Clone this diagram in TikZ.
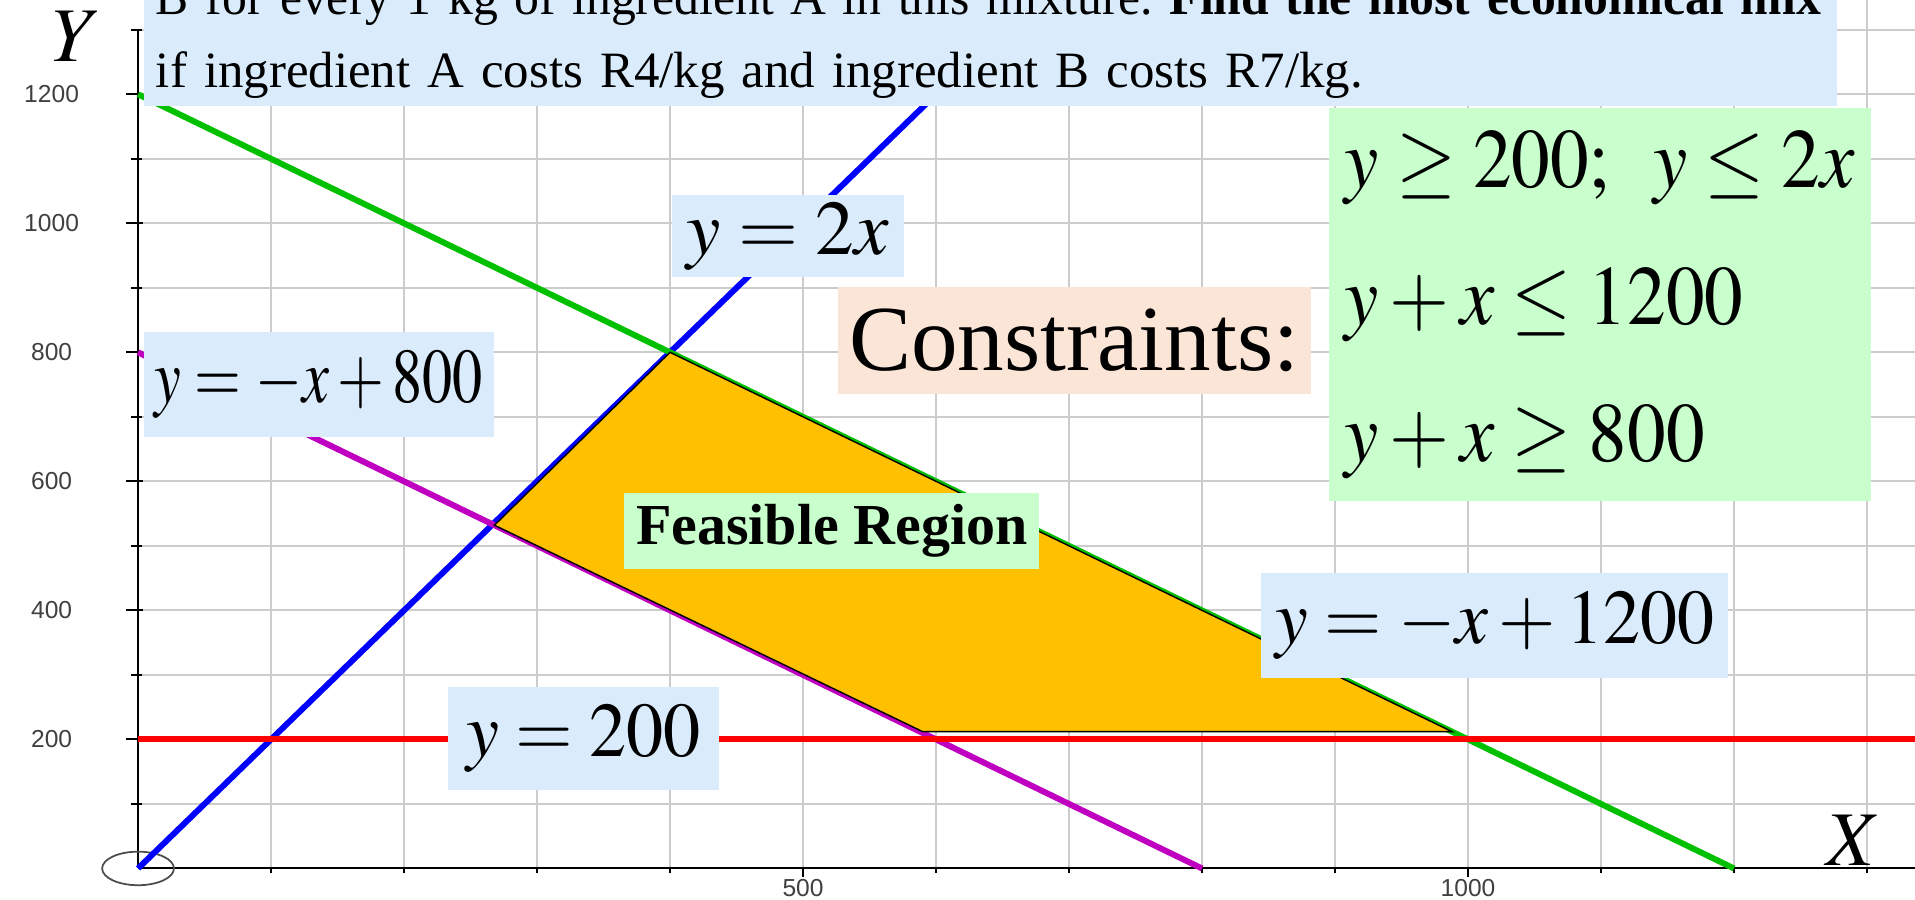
\documentclass[tikz,border=0pt]{standalone}
\usepackage{graphicx}
\usepackage{mathptmx}
\usepackage{fontspec}
\setmainfont{Liberation Serif}
\newfontfamily\axisfont{Liberation Sans}
\usetikzlibrary{positioning}

\definecolor{labelblue}{RGB}{218,236,252}
\definecolor{labelgreen}{RGB}{200,255,204}
\definecolor{labelpeach}{RGB}{251,229,214}
\definecolor{regionorange}{RGB}{255,192,0}
\definecolor{linegreen}{RGB}{0,192,0}
\definecolor{linemagenta}{RGB}{192,0,192}
\definecolor{gridgray}{RGB}{204,204,204}

% horizontally condensed text
\newcommand{\narrow}[2]{\scalebox{#1}[1]{#2}}

\tikzset{
  gridline/.style={gridgray, line width=0.6pt},
  axisline/.style={black, line width=0.6pt},
  graphline/.style={line width=1.7pt},
  ticklabel/.style={font=\axisfont\fontsize{7}{8}\selectfont, text=black!75, inner sep=0pt},
  axislabel/.style={font=\fontsize{22}{24}\selectfont, inner sep=0pt},
  eqbox/.style={fill=labelblue, inner sep=0pt, font=\fontsize{22}{26}\selectfont},
  region/.style={fill=regionorange, draw=black, line width=0.4pt},
}

\begin{document}
\begin{tikzpicture}[x=0.0133cm, y=0.00646cm]
  \useasboundingbox (-103.8,-48.6) rectangle (1336.1,1346.1);
  \clip (-103.8,-48.6) rectangle (1336.1,1346.1);
  % grid
  \foreach \gx in {100,200,...,1300}
    \draw[gridline] (\gx,0) -- (\gx,1350);
  \foreach \gy in {100,200,...,1300}
    \draw[gridline] (0,\gy) -- (1340,\gy);
  % axes and ticks
  \draw[axisline] (0,0) -- (0,1300);
  \draw[axisline] (0,0) -- (1340,0);
  \foreach \ty in {100,300,...,1300}
    \draw[axisline] (-5,\ty) -- (3,\ty);
  \foreach \ty in {200,400,...,1200} {
    \draw[axisline] (-9,\ty) -- (4,\ty);
    \node[ticklabel] (ytick\ty) at (-65,\ty) {\ty};
  }
  \foreach \tx in {100,200,...,1300}
    \draw[axisline] (\tx,-7) -- (\tx,2);
  \foreach \tx in {500,1000} {
    \draw[axisline] (\tx,-13) -- (\tx,3);
    \node[ticklabel] (xtick\tx) at (\tx,-31) {\tx};
  }
  \node[axislabel] (ylabel) at (-46,1290) {$Y$};
  \node[axislabel] (xlabel) at (1290,44) {$X$};
  \draw[black!70, line width=0.5pt] (0,0) ellipse [x radius=27, y radius=26];
  % constraint lines
  \draw[graphline, blue] (0,0) -- (650,1300);
  \draw[graphline, linegreen] (0,1200) -- (1200,0);
  \draw[graphline, linemagenta] (0,800) -- (800,0);
  \draw[graphline, red] (0,200) -- (1340,200);
  % feasible region
  \filldraw[region] (268,532) -- (400,800) -- (988,212) -- (590,212) -- cycle;
  % labels
  \node[fill=labelblue, anchor=south west, inner xsep=3.5pt, inner ysep=2.2pt,
        text width=475pt, align=left, font=\fontsize{14.5}{20.8}\selectfont\frenchspacing]
    (problem) at (3.7,1181)
    {\narrow{0.975}{B for every 1 kg of ingredient A in this mixture. \textbf{Find the most economical mix}}\\
     if ingredient A costs R4/kg and ingredient B costs R7/kg.};
  \node[eqbox, minimum width=66pt, minimum height=23.3pt] (eqblue) at (488.5,980) {$y=2x$};
  \node[eqbox, minimum width=99.6pt, minimum height=29.9pt]
    (eqmagenta) at (136,750) {\narrow{0.78}{$y=-x+800$}};
  \node[eqbox, minimum width=132.9pt, minimum height=29.9pt] (eqgreen) at (1020,376)
    {\narrow{0.955}{$y=-x+1200$}};
  \node[eqbox, minimum width=77.1pt, minimum height=29.3pt] (eqred) at (335,202)
    {\narrow{0.96}{$y=200$}};
  \node[fill=labelpeach, minimum width=134.6pt, minimum height=30.4pt, inner sep=0pt,
        font=\fontsize{26.5}{30}\selectfont] (contitle) at (704,818.5) {Constraints:};
  \node[fill=labelgreen, minimum width=154.2pt, minimum height=112.1pt, inner sep=0pt,
        align=left, font=\fontsize{24}{39}\selectfont] (conlist) at (1099,874)
    {\narrow{0.915}{$y\ge200;\;\; y\le2x$}\\ \narrow{0.915}{$y+x\le1200$}\\ \narrow{0.915}{$y+x\ge800$}};
  \node[fill=labelgreen, minimum width=118pt, minimum height=21.6pt, inner sep=0pt,
        font=\bfseries\fontsize{16.5}{20}\selectfont] (feasible) at (521.6,523.6) {Feasible Region};
\end{tikzpicture}
\end{document}
